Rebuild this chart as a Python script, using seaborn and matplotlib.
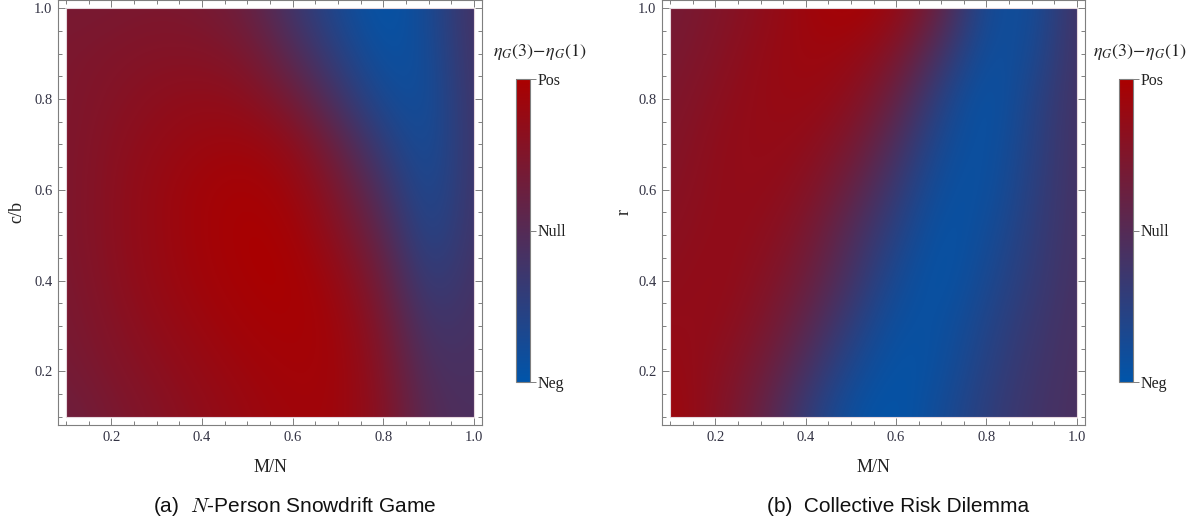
import numpy as np
import matplotlib
matplotlib.use("Agg")
import matplotlib.pyplot as plt
import seaborn as sns
from matplotlib.patches import Rectangle

# Grid of sampled values for eta_G(3) - eta_G(1), scaled to [-1 (Neg), 1 (Pos)].
# Columns: M/N = 0.1 ... 1.0 ; rows: y = 1.0 (top) ... 0.1 (bottom)
m_over_n = [0.1, 0.2, 0.3, 0.4, 0.5, 0.6, 0.7, 0.8, 0.9, 1.0]
y_values = [1.0, 0.9, 0.8, 0.7, 0.6, 0.5, 0.4, 0.3, 0.2, 0.1]

snowdrift_diff = [
    [0.40, 0.42, 0.45, 0.42, 0.25, -0.25, -0.70, -1.00, -0.75, -0.12],
    [0.45, 0.50, 0.55, 0.55, 0.45, 0.00, -0.50, -0.92, -0.80, -0.15],
    [0.45, 0.55, 0.65, 0.70, 0.65, 0.35, -0.20, -0.75, -0.85, -0.18],
    [0.45, 0.60, 0.72, 0.82, 0.85, 0.70, 0.20, -0.45, -0.85, -0.20],
    [0.45, 0.62, 0.78, 0.90, 0.97, 0.85, 0.45, -0.15, -0.80, -0.20],
    [0.45, 0.62, 0.78, 0.90, 1.00, 0.95, 0.60, 0.10, -0.70, -0.18],
    [0.42, 0.60, 0.76, 0.88, 0.97, 1.00, 0.78, 0.30, -0.50, -0.16],
    [0.40, 0.55, 0.70, 0.82, 0.92, 0.97, 0.88, 0.45, -0.30, -0.14],
    [0.35, 0.50, 0.62, 0.75, 0.85, 0.92, 0.90, 0.55, -0.15, -0.12],
    [0.25, 0.42, 0.55, 0.68, 0.80, 0.88, 0.88, 0.60, -0.05, -0.10],
]

crd_diff = [
    [0.35, 0.50, 0.65, 0.85, 1.00, 0.80, 0.20, -0.80, -0.85, -0.15],
    [0.40, 0.55, 0.72, 0.85, 0.80, 0.50, -0.20, -0.90, -0.75, -0.15],
    [0.45, 0.62, 0.75, 0.80, 0.65, 0.20, -0.55, -1.00, -0.60, -0.15],
    [0.50, 0.68, 0.75, 0.70, 0.45, -0.10, -0.75, -0.95, -0.55, -0.15],
    [0.55, 0.70, 0.72, 0.60, 0.20, -0.35, -0.88, -0.90, -0.50, -0.15],
    [0.60, 0.72, 0.68, 0.45, -0.05, -0.55, -0.97, -0.80, -0.45, -0.15],
    [0.65, 0.75, 0.60, 0.30, -0.20, -0.75, -0.98, -0.70, -0.40, -0.14],
    [0.72, 0.72, 0.50, 0.10, -0.45, -0.90, -0.90, -0.60, -0.32, -0.13],
    [0.80, 0.65, 0.35, -0.15, -0.70, -0.98, -0.85, -0.52, -0.27, -0.12],
    [0.88, 0.60, 0.20, -0.40, -0.90, -1.00, -0.75, -0.45, -0.22, -0.12],
]

cbar_ticks = [-1, 0, 1]
cbar_labels = ["Neg", "Null", "Pos"]
major_ticks = [0.2, 0.4, 0.6, 0.8, 1.0]
major_labels = ["0.2", "0.4", "0.6", "0.8", "1.0"]

panels = [
    {"values": snowdrift_diff, "ylabel": "c/b",
     "caption": "(a)  $N$-Person Snowdrift Game"},
    {"values": crd_diff, "ylabel": "r",
     "caption": "(b)  Collective Risk Dilemma"},
]

sns.set_theme(style="ticks")
plt.rcParams["font.family"] = ["Liberation Serif", "DejaVu Serif"]
plt.rcParams["mathtext.fontset"] = "stix"

cmap = sns.blend_palette(["#0055AA", "#AA0000"], as_cmap=True)
frame_gray = "#7f7f7f"

W, H = 1197, 526
fig = plt.figure(figsize=(W / 100, H / 100), dpi=100)


def fx(px):
    return px / W


def fy(py):
    return 1 - py / H


# pixel layout of each panel: frame edges, colorbar, and label anchors
layout = [
    dict(left=58, right=482, cb_left=516, ylab_x=17, xlab_x=270, cap_x=295, cbt_x=540),
    dict(left=662, right=1085, cb_left=1119, ylab_x=624, xlab_x=873, cap_x=898, cbt_x=1140),
]
frame_top, frame_bottom = 0, 425
cb_top, cb_bottom, cb_w = 79, 382, 14

for panel, lay in zip(panels, layout):
    ax = fig.add_axes([fx(lay["left"]), fy(frame_bottom),
                       fx(lay["right"] - lay["left"]),
                       (frame_bottom - frame_top) / H])
    vals = np.array(panel["values"])
    step = m_over_n[1] - m_over_n[0]
    im = ax.imshow(vals, cmap=cmap, vmin=-1, vmax=1, origin="upper",
                   interpolation="bicubic", aspect="auto",
                   extent=(m_over_n[0] - step / 2, m_over_n[-1] + step / 2,
                           y_values[-1] - step / 2, y_values[0] + step / 2))
    clip = Rectangle((m_over_n[0], y_values[-1]),
                     m_over_n[-1] - m_over_n[0], y_values[0] - y_values[-1],
                     transform=ax.transData, facecolor="none",
                     edgecolor="#e6d8de", linewidth=0.8, zorder=3)
    ax.add_patch(clip)
    im.set_clip_path(clip)

    ax.set_xlim(0.082, 1.018)
    ax.set_ylim(0.082, 1.018)
    ax.set_xticks(major_ticks)
    ax.set_xticklabels(major_labels)
    ax.set_yticks(major_ticks)
    ax.set_yticklabels(major_labels)
    ax.set_xticks(np.arange(0.1, 1.0001, 0.05), minor=True)
    ax.set_yticks(np.arange(0.1, 1.0001, 0.05), minor=True)
    ax.tick_params(which="both", direction="in", top=True, right=True,
                   color=frame_gray, width=0.7, labelsize=10.5,
                   labelcolor="#333344")
    ax.tick_params(which="major", length=4.8, pad=4)
    ax.tick_params(which="minor", length=3.0)
    for sp in ax.spines.values():
        sp.set_color(frame_gray)
        sp.set_linewidth(0.8)

    fig.text(fx(lay["ylab_x"]), fy(212), panel["ylabel"], rotation=90,
             ha="center", va="center", fontsize=13, color="#222222")
    fig.text(fx(lay["xlab_x"]), fy(467), "M/N", ha="center", va="center",
             fontsize=13, color="#222222")
    fig.text(fx(lay["cap_x"]), fy(506), panel["caption"], ha="center",
             va="center", fontsize=15, family=["Liberation Sans", "DejaVu Sans"],
             math_fontfamily="cm", color="#111111")

    cax = fig.add_axes([fx(lay["cb_left"]), fy(cb_bottom), fx(cb_w),
                        (cb_bottom - cb_top) / H])
    cb = fig.colorbar(im, cax=cax, ticks=cbar_ticks)
    cb.ax.set_yticklabels(cbar_labels)
    cb.ax.tick_params(length=4.5, width=0.7, color=frame_gray, pad=1,
                      labelsize=11.5, labelcolor="#222222")
    cb.outline.set_edgecolor(frame_gray)
    cb.outline.set_linewidth(0.8)
    fig.text(fx(lay["cbt_x"]), fy(52), r"$\eta_G(3)\!-\!\eta_G(1)$",
             ha="center", va="center", fontsize=13, color="#222222")

fig.savefig("out.png", dpi=100)
